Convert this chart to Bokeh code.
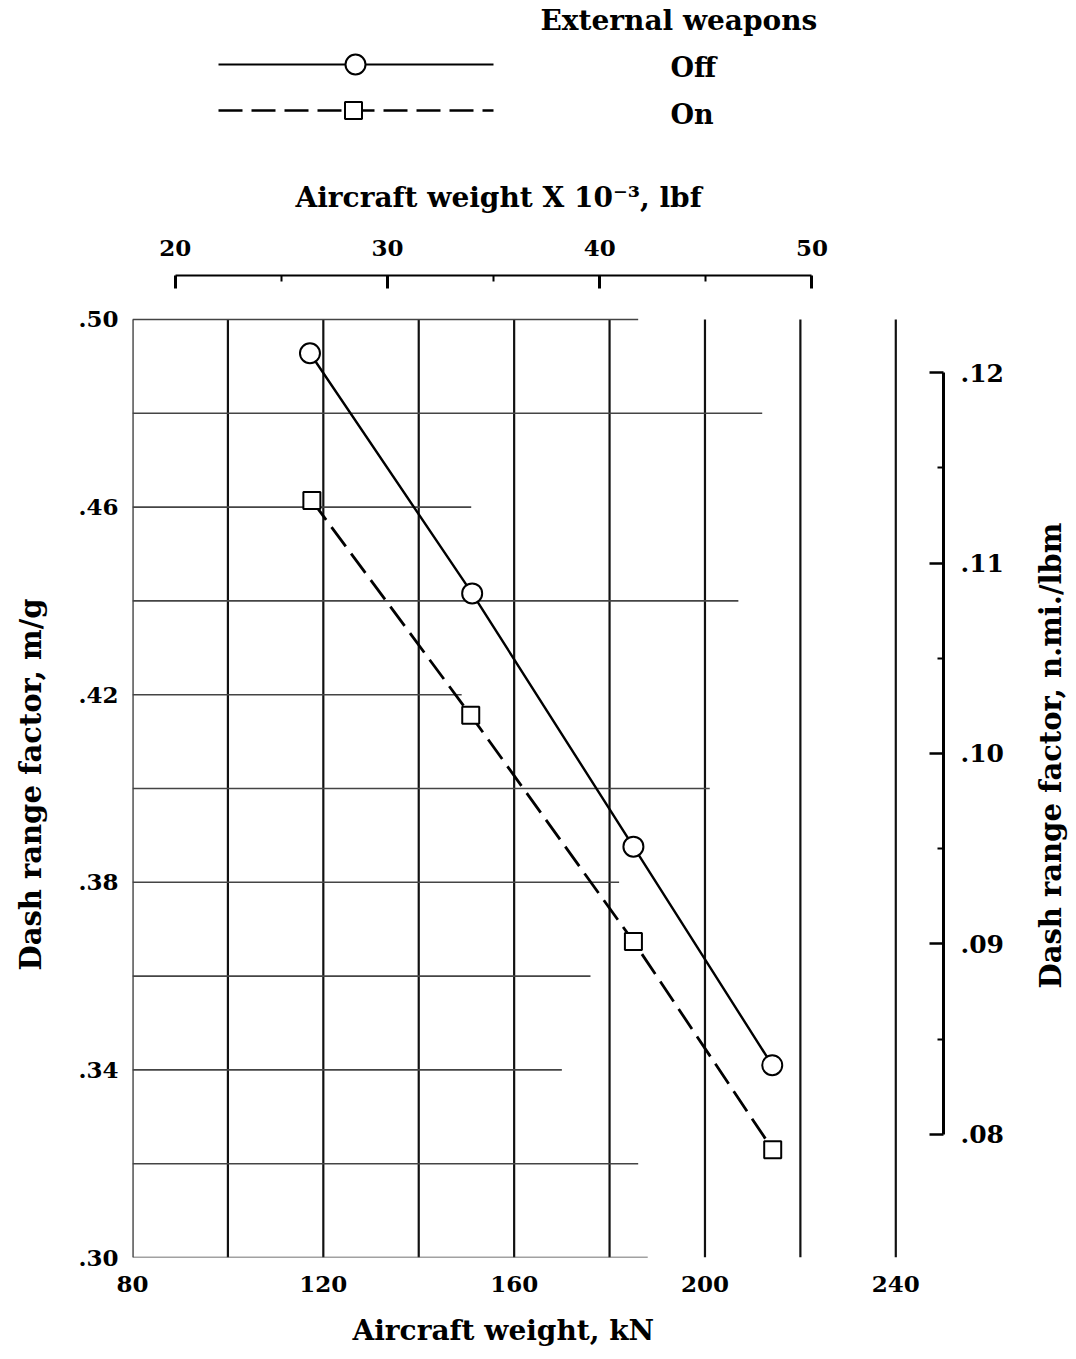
import math
from bokeh.plotting import figure
from bokeh.models import Range1d, LinearAxis, FixedTicker, CustomJSTickFormatter, Title
from bokeh.layouts import column, row
from bokeh.core.properties import value
from bokeh.embed import file_html
from bokeh.resources import INLINE

# ---------------- data ----------------
weight_off_kN = [117.2, 151.2, 185.0, 214.1]
drf_off = [0.4928, 0.4416, 0.3876, 0.3410]
weight_on_kN = [117.6, 150.9, 185.0, 214.2]
drf_on = [0.4614, 0.4156, 0.3674, 0.3230]

bottom_ticks = [80, 120, 160, 200, 240]
left_ticks = [0.30, 0.34, 0.38, 0.42, 0.46, 0.50]
top_ticks = [20, 30, 40, 50]
top_minor = [25, 35, 45]
right_ticks = [0.08, 0.09, 0.10, 0.11, 0.12]
right_minor = [0.085, 0.095, 0.105, 0.115]

grid_x = [80, 100, 120, 140, 160, 180, 200, 220, 240]
grid_y = [0.30, 0.32, 0.34, 0.36, 0.38, 0.40, 0.42, 0.44, 0.46, 0.48, 0.50]
grid_y_end = [188, 186, 170, 176, 182, 201, 149, 207, 151, 212, 186]

series_names = ["Off", "On"]
legend_title = "External weapons"
right_title = "Dash range factor, n.mi./lbm"

KN_TO_KLBF = 1.0 / 4.448222
# right axis n.mi./lbm range aligned to m/g range as drawn in the figure
NMI_START, NMI_END = 0.073543, 0.125092

FONT = "DejaVu Serif"
X0, X1 = 80, 250
Y0, Y1 = 0.30, 0.50938

W = 1076
BL = 132                     # frame starts at x=132
FR = 943                     # frame ends at x=943
MAIN_W = 1020
RW = W - MAIN_W              # narrow strip that carries the right-hand title
LEG_H = 150
BT, BB = 125, 95             # frame 275..1257 on the page
FRAME_H = 982
MAIN_H = BT + FRAME_H + BB

# ---------------- legend figure ----------------
leg = figure(width=W, height=LEG_H, x_range=Range1d(BL, FR), y_range=Range1d(LEG_H, 0),
             output_backend="svg", toolbar_location=None,
             x_axis_location=None, y_axis_location=None,
             min_border_left=BL, min_border_right=W - FR, min_border_top=0, min_border_bottom=0)
leg.outline_line_color = None
leg.grid.visible = False
leg.text(x=[540], y=[20], text=[legend_title], text_font=value(FONT), text_font_style="bold",
         text_font_size="28px", text_baseline="middle", text_align="left", text_color="black")
leg.line(x=[218, 493], y=[64, 64], line_color="black", line_width=2.2)
leg.scatter(x=[355], y=[64], marker="circle", size=20, fill_color="white",
            line_color="black", line_width=2)
leg.line(x=[218, 493], y=[110, 110], line_color="black", line_width=2.6, line_dash="24 9")
leg.scatter(x=[353], y=[110], marker="square", size=17, fill_color="white",
            line_color="black", line_width=2)
leg.text(x=[670, 670], y=[67, 114], text=series_names, text_font=value(FONT),
         text_font_style="bold", text_font_size="27px", text_baseline="middle",
         text_align="left", text_color="black")

# ---------------- main figure ----------------
p = figure(width=MAIN_W, height=MAIN_H, x_range=Range1d(X0, X1), y_range=Range1d(Y0, Y1),
           output_backend="svg", toolbar_location=None,
           x_axis_location=None, y_axis_location=None,
           min_border_left=BL, min_border_right=MAIN_W - FR, min_border_top=BT,
           min_border_bottom=BB)
p.outline_line_color = None
p.grid.visible = False
p.background_fill_color = "white"
p.border_fill_color = "white"

p.extra_x_ranges = {"lbf": Range1d(X0 * KN_TO_KLBF, X1 * KN_TO_KLBF)}
p.extra_y_ranges = {"nmi": Range1d(NMI_START, NMI_END)}

# grid
p.segment(x0=grid_x, y0=[0.30] * len(grid_x), x1=grid_x, y1=[0.50] * len(grid_x),
          line_color="#111111", line_width=2.2)
p.segment(x0=[80] * len(grid_y), y0=grid_y, x1=grid_y_end, y1=grid_y,
          line_color="#444444", line_width=1.6)

# data
p.line(weight_off_kN, drf_off, line_color="black", line_width=2.4)
p.line(weight_on_kN, drf_on, line_color="black", line_width=2.8, line_dash="24 9")
p.scatter(weight_off_kN, drf_off, marker="circle", size=20, fill_color="white",
          line_color="black", line_width=2)
p.scatter(weight_on_kN, drf_on, marker="square", size=17, fill_color="white",
          line_color="black", line_width=2)

def style_labels(ax, size="23px"):
    ax.major_label_text_font = FONT
    ax.major_label_text_font_style = "bold"
    ax.major_label_text_font_size = size
    ax.major_label_text_color = "black"

def spacer_label(ax, gap):
    # an empty axis label used only to reserve a gap before the outer title
    ax.axis_label = " "
    ax.axis_label_text_font_size = "1px"
    ax.axis_label_standoff = gap

def title(text, size="28px", **kw):
    return Title(text=text, text_font=FONT, text_font_style="bold", text_font_size=size,
                 text_color="black", **kw)

fmt2 = CustomJSTickFormatter(code="return tick.toFixed(2).replace(/^0/, '');")

# bottom axis
bx = LinearAxis(ticker=FixedTicker(ticks=bottom_ticks, minor_ticks=[]))
bx.axis_line_color = None
bx.major_tick_in = 0
bx.major_tick_out = 0
bx.minor_tick_in = 0
bx.minor_tick_out = 0
bx.major_label_standoff = 18
style_labels(bx)
spacer_label(bx, 12)
p.add_layout(bx, "below")
p.add_layout(title("Aircraft weight, kN", align="left", offset=220, standoff=2), "below")

# left axis
ly = LinearAxis(ticker=FixedTicker(ticks=left_ticks, minor_ticks=[]), formatter=fmt2)
ly.axis_line_color = None
ly.major_tick_in = 0
ly.major_tick_out = 0
ly.minor_tick_in = 0
ly.minor_tick_out = 0
ly.major_label_standoff = 14
style_labels(ly)
spacer_label(ly, 23)
p.add_layout(ly, "left")
p.add_layout(title("Dash range factor, m/g", size="29px", align="left", offset=287, standoff=2),
             "left")

# top axis (lbf x 10^-3)
tx = LinearAxis(x_range_name="lbf", ticker=FixedTicker(ticks=top_ticks, minor_ticks=top_minor))
tx.bounds = (20, 50)
tx.axis_line_width = 2
tx.axis_line_color = "black"
tx.major_tick_in = 13
tx.major_tick_out = 0
tx.major_tick_line_width = 3
tx.minor_tick_in = 6
tx.minor_tick_out = 0
tx.minor_tick_line_width = 2
tx.major_label_standoff = 20
style_labels(tx)
p.add_layout(tx, "above")
p.add_layout(title("Aircraft weight X 10\u207b\u00b3, lbf", align="left", offset=163,
                   standoff=46), "above")

# right axis (n.mi./lbm)
ry = LinearAxis(y_range_name="nmi", ticker=FixedTicker(ticks=right_ticks, minor_ticks=right_minor),
                formatter=fmt2)
ry.bounds = (0.08, 0.12)
ry.axis_line_width = 3
ry.axis_line_color = "black"
ry.major_tick_in = 14
ry.major_tick_out = 0
ry.major_tick_line_width = 2.5
ry.minor_tick_in = 6
ry.minor_tick_out = 0
ry.minor_tick_line_width = 2
ry.major_label_standoff = 17
style_labels(ry, size="25px")
p.add_layout(ry, "right")

# ---------------- strip with the right-hand axis title ----------------
rt = figure(width=RW, height=MAIN_H, x_range=Range1d(MAIN_W, W), y_range=Range1d(0, FRAME_H),
            output_backend="svg", toolbar_location=None,
            x_axis_location=None, y_axis_location=None,
            min_border_left=0, min_border_right=0, min_border_top=BT, min_border_bottom=BB)
rt.outline_line_color = None
rt.grid.visible = False
rt.text(x=[1050], y=[1257 - 755], text=[right_title], angle=math.pi / 2,
        text_font=value(FONT), text_font_style="bold", text_font_size="29px",
        text_align="center", text_baseline="middle", text_color="black")
try:
    rt.frame_align = False
except Exception:
    pass

layout = column(leg, row(p, rt))
open("out.html", "w").write(file_html(layout, INLINE))
